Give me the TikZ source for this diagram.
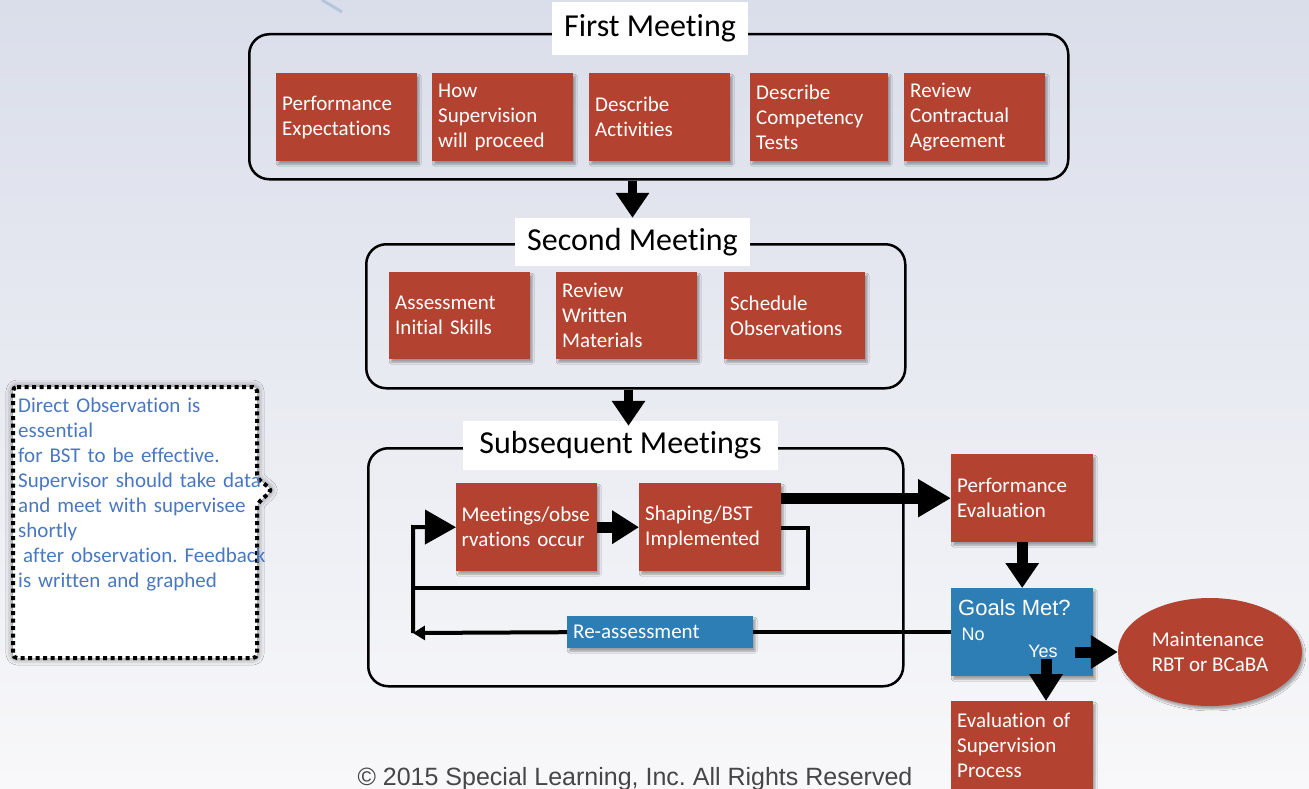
\documentclass[tikz,border=0pt]{standalone}
\usepackage{fontspec}
\setmainfont{Carlito}[Ligatures={NoCommon}]
\newfontfamily\arialf{Liberation Sans}
\usetikzlibrary{arrows.meta,shapes.geometric,shadows.blur,calc}
\definecolor{boxred}{RGB}{179,67,48}
\definecolor{boxblue}{RGB}{46,126,182}
\definecolor{notetext}{RGB}{74,120,192}
\definecolor{bgtop}{RGB}{218,222,234}
\definecolor{bgbot}{RGB}{248,248,250}
\definecolor{copygray}{RGB}{70,70,70}
\definecolor{swoosh}{RGB}{165,188,215}
\frenchspacing
\begin{document}
\begin{tikzpicture}[x=1pt,y=-1pt,
  shadowed/.style={blur shadow={shadow xshift=2pt,shadow yshift=-3pt,shadow blur steps=6,shadow opacity=35}},
  boxfont/.style={font=\fontsize{21}{25}\selectfont},
  redbox/.style={shadowed, fill=boxred, text=white, boxfont, align=left, inner xsep=6pt, inner ysep=0pt, minimum height=88pt, anchor=north west},
  bluebox/.style={shadowed, fill=boxblue, text=white, anchor=north west, inner sep=0pt},
  groupbox/.style={draw=black, line width=2.5pt, rounded corners=20pt, anchor=north west, inner sep=0pt},
  titlebox/.style={fill=white, font=\fontsize{32}{36}\selectfont, inner sep=0pt},
  bigarrow/.style={line width=9pt, -{Triangle[width=32pt,length=25pt]}},
  medarrow/.style={line width=11pt, -{Triangle[width=32pt,length=27pt]}},
  loopline/.style={line width=4pt},
  arlabel/.style={text=white, inner sep=0pt},
]
\useasboundingbox (0,0) rectangle (1309,789);
\clip (0,0) rectangle (1309,789);
\shade[top color=bgtop, bottom color=bgbot] (0,0) rectangle (1309,789);
\draw[line width=3pt, swoosh, opacity=0.7] (322,0) -- (342,12);

% First meeting
\node[groupbox, minimum width=819pt, minimum height=145pt] (fm) at (248,33) {};
\node[titlebox, minimum width=196pt, minimum height=53pt] (t1) at (650,28.5) {First Meeting};
\node[redbox, text width=129pt] (fa) at (276,73) {Performance\\Expectations};
\node[redbox, text width=129pt] (fb) at (432,73) {How\\Supervision\\will proceed};
\node[redbox, text width=129pt] (fc) at (589,73) {Describe\\Activities};
\node[redbox, text width=126pt] (fd) at (750,73) {Describe\\Competency\\Tests};
\node[redbox, text width=129pt] (fe) at (904,73) {Review\\Contractual\\Agreement};

% Second meeting
\node[groupbox, minimum width=539pt, minimum height=144pt] (sm) at (365,243) {};
\node[titlebox, minimum width=235pt, minimum height=48pt] (t2) at (632.5,242) {Second Meeting};
\node[redbox, text width=129pt, minimum height=87pt] (sa) at (389,272) {Assessment\\Initial Skills};
\node[redbox, text width=129pt, minimum height=87pt] (sb2) at (556,272) {Review\\Written\\Materials};
\node[redbox, text width=129pt, minimum height=87pt] (sc) at (724,272) {Schedule\\Observations};

% Subsequent meetings
\node[groupbox, minimum width=535pt, minimum height=238pt] (qm) at (367,447) {};
\node[titlebox, minimum width=315pt, minimum height=49pt] (t3) at (620.5,445.5) {Subsequent Meetings};
\node[redbox, text width=130pt, inner xsep=5.5pt] (mo) at (456,483) {Meetings/obse\\rvations occur};
\node[redbox, text width=130pt] (sb) at (639,483) {Shaping/BST\\Implemented};
\node[bluebox, boxfont, minimum width=186pt, minimum height=32pt, text width=174pt, inner xsep=6pt, align=left] (ra) at (567,616) {Re-assessment};

% Right column
\node[redbox, text width=130pt] (pe) at (951,454) {Performance\\Evaluation};
\node[bluebox, minimum width=142pt, minimum height=88pt] (gm) at (951,588) {};
\node[arlabel, anchor=west, font=\arialf\fontsize{22}{26}\selectfont] (gmt) at (958,608) {Goals Met?};
\node[arlabel, font=\arialf\fontsize{18}{22}\selectfont] (no) at (973,634) {No};
\node[arlabel, font=\arialf\fontsize{18}{22}\selectfont] (yes) at (1043,651) {Yes};
\node[ellipse, shadowed, fill=boxred, text=white, boxfont, align=left, minimum width=184pt, minimum height=108pt, inner sep=0pt] (el) at (1210,652) {Maintenance\\RBT or BCaBA};
\node[redbox, text width=130pt] (ev) at (951,701) {Evaluation of\\Supervision\\Process};

% Arrows between meetings
\draw[bigarrow] (fm.south -| t2.north) -- (t2.north);
\draw[bigarrow] ([xshift=8pt]t3.north |- sm.south) -- ([xshift=8pt,yshift=-5pt]t3.north);

% Loop
\coordinate (c1) at (808,528);
\coordinate (c2) at (808,588);
\coordinate (c3) at (413,588);
\coordinate (c4) at (413,633);
\coordinate (c5) at (413,527);
\draw[medarrow] (mo) -- (sb.west);
\draw[loopline, line join=miter] (sb.east |- c1) -- (c1) -- (c2) -- (c3);
\draw[loopline, line join=miter, -{Triangle[width=34pt,length=31pt]}] (c4) -- (c5) -- (mo.west);
\draw[loopline] (gm.west) -- (ra.east);
\draw[loopline, -{Triangle[width=14pt,length=12pt]}] (ra.west) -- (c4);

% Right column arrows
\draw[line width=11pt, -{Triangle[width=36pt,length=33pt]}] (sb.east |- pe.west) -- (pe.west);
\draw[bigarrow, line width=11pt] (pe.south) -- (gm.north);
\draw[medarrow] ([xshift=-18pt]gm.east |- el.west) -- (el.west);
\draw[medarrow] ([xshift=3pt,yshift=-2pt]yes.south) -- ([xshift=3pt]yes.south |- ev.north);

% Callout
\draw[fill=white, line width=4pt, dash pattern=on 4pt off 3.5pt, rounded corners=4pt,
      blur shadow={shadow xshift=0pt,shadow yshift=0pt,shadow blur radius=7pt,shadow opacity=60}]
  (13,387) -- (257,387) -- (257,478) -- (272,490) -- (257,504) -- (257,658) -- (13,658) -- cycle;
\node[anchor=north west, text width=320pt, align=left, boxfont, text=notetext, inner sep=0pt] (note) at (18,398)
  {Direct Observation is\\essential\\for BST to be effective.\\Supervisor should take data\\and meet with supervisee\\shortly\\\hspace*{5pt}after observation. Feedback\\is written and graphed};

% Copyright
\node[anchor=base, font=\arialf\fontsize{25}{30}\selectfont, text=copygray, inner sep=0pt] (copy) at (635,785) {© 2015 Special Learning, Inc. All Rights Reserved};
\end{tikzpicture}
\end{document}
